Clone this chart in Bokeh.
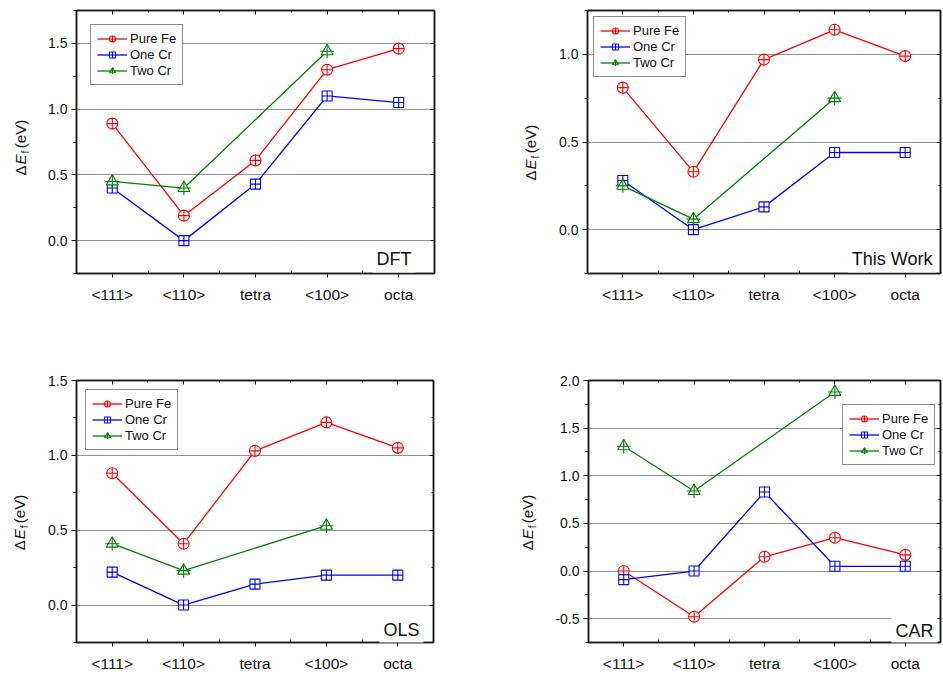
import math
from bokeh.plotting import figure
from bokeh.models import (FixedTicker, LinearAxis, Label, Legend, LegendItem,
                          PrintfTickFormatter, CustomJSTickFormatter, Range1d)
from bokeh.core.properties import value
from bokeh.layouts import column, row
from bokeh.embed import file_html
from bokeh.resources import INLINE

# ---------------- data ----------------
categories = ["<111>", "<110>", "tetra", "<100>", "octa"]
series_names = ["Pure Fe", "One Cr", "Two Cr"]

dft_pure_fe = [0.89, 0.19, 0.61, 1.30, 1.46]
dft_one_cr = [0.40, 0.00, 0.43, 1.10, 1.05]
dft_two_cr = [0.45, 0.40, None, 1.44, None]

work_pure_fe = [0.81, 0.33, 0.97, 1.14, 0.99]
work_one_cr = [0.28, 0.00, 0.13, 0.44, 0.44]
work_two_cr = [0.25, 0.06, None, 0.75, None]

ols_pure_fe = [0.88, 0.41, 1.03, 1.22, 1.05]
ols_one_cr = [0.22, 0.00, 0.14, 0.20, 0.20]
ols_two_cr = [0.41, 0.23, None, 0.53, None]

car_pure_fe = [0.00, -0.48, 0.15, 0.35, 0.17]
car_one_cr = [-0.09, 0.00, 0.83, 0.05, 0.05]
car_two_cr = [1.31, 0.84, None, 1.88, None]

panel_tags = ["DFT", "This Work", "OLS", "CAR"]
y_label_parts = ["\u0394", "E", "f", "(eV)"]

# ---------------- style ----------------
FONT = "Liberation Sans"
RED, BLUE, GREEN = "#FF0000", "#0000FF", "#008000"
FRAME = "#1a1a1a"
TXT = "#111111"


def xy(values):
    xs, ys = [], []
    for i, v in enumerate(values):
        if v is not None:
            xs.append(i + 1)
            ys.append(v)
    return xs, ys


def mirror_axis(ticker):
    return LinearAxis(ticker=ticker,
                      formatter=CustomJSTickFormatter(code="return ''"),
                      major_label_text_font_size="0px",
                      major_label_standoff=0,
                      major_tick_in=4, major_tick_out=0,
                      minor_tick_in=2, minor_tick_out=0,
                      axis_line_color=FRAME, axis_line_width=1.5,
                      major_tick_line_color=FRAME, minor_tick_line_color=FRAME)


def label_strip(width, height, bt, bb, base_x, bottom_y):
    """Narrow figure holding the rotated y-axis title: ΔE_f (eV).
    Its frame is aligned with the neighbouring panel (borders bt / bb), and the
    y range is chosen so that one data unit is one pixel measured from the
    bottom of the strip.  base_x: text baseline, bottom_y: text start (from top)."""
    s = figure(width=width, height=height, x_range=Range1d(0, width),
               y_range=Range1d(bb, height - bt), output_backend="svg",
               toolbar_location=None, x_axis_type=None, y_axis_type=None,
               min_border=0, min_border_left=0, min_border_right=0,
               min_border_top=bt, min_border_bottom=bb)
    s.outline_line_color = None
    s.background_fill_color = "white"
    s.border_fill_color = "white"
    y0 = height - bottom_y
    # (text, style, size, centre along the text, centre across relative to baseline)
    specs = [(y_label_parts[0], "normal", "15px", 5.0, -5.2),
             (y_label_parts[1], "italic", "15px", 16.0, -5.2),
             (y_label_parts[2], "normal", "10px", 23.5, -0.5),
             (y_label_parts[3], "normal", "15px", 41.5, -5.2)]
    for txt, style, size, along, across in specs:
        s.text(x=[base_x + across], y=[y0 + along], text=[txt],
               angle=math.pi / 2, text_align="center", text_baseline="middle",
               text_font=value(FONT), text_font_style=style,
               text_font_size=size, text_color=TXT)
    return s


def panel(series, tag, y_lim, y_ticks, y_minor, width, height, borders,
          legend_loc, legend_margin, tag_off, x_standoff):
    bl, br, bt, bb = borders
    n = len(categories)
    p = figure(width=width, height=height,
               x_range=Range1d(0.5, n + 0.5), y_range=Range1d(*y_lim),
               output_backend="svg", toolbar_location=None,
               min_border_left=bl, min_border_right=br,
               min_border_top=bt, min_border_bottom=bb)
    p.background_fill_color = "white"
    p.border_fill_color = "white"
    p.outline_line_color = FRAME
    p.outline_line_width = 1.5
    p.xgrid.visible = False
    p.ygrid.grid_line_color = "#222222"
    p.ygrid.grid_line_dash = "1 1"
    p.ygrid.grid_line_width = 1

    yt = FixedTicker(ticks=y_ticks, minor_ticks=y_minor)
    xt = FixedTicker(ticks=list(range(1, n + 1)),
                     minor_ticks=[i + 0.5 for i in range(1, n)])

    ax = p.yaxis[0]
    ax.ticker = yt
    ax.formatter = PrintfTickFormatter(format="%.1f")
    ax.major_tick_out = 5
    ax.major_tick_in = 0
    ax.minor_tick_out = 3
    ax.minor_tick_in = 0
    ax.major_label_standoff = 4
    ax.major_label_text_font = FONT
    ax.major_label_text_font_size = "14px"
    ax.major_label_text_color = TXT
    ax.axis_line_color = FRAME
    ax.axis_line_width = 1.5
    ax.major_tick_line_color = FRAME
    ax.minor_tick_line_color = FRAME

    bx = p.xaxis[0]
    bx.ticker = xt
    bx.major_label_overrides = {i + 1: c for i, c in enumerate(categories)}
    bx.major_tick_out = 4
    bx.major_tick_in = 0
    bx.minor_tick_in = 3
    bx.minor_tick_out = 0
    bx.major_label_standoff = x_standoff
    bx.major_label_text_font = FONT
    bx.major_label_text_font_size = "15.5px"
    bx.major_label_text_color = TXT
    bx.axis_line_color = FRAME
    bx.axis_line_width = 1.5
    bx.major_tick_line_color = FRAME
    bx.minor_tick_line_color = FRAME

    p.add_layout(mirror_axis(xt), "above")
    p.add_layout(mirror_axis(yt), "right")

    colors = [RED, BLUE, GREEN]
    items = []
    for name, vals, c in zip(series_names, series, colors):
        xs, ys = xy(vals)
        rl = p.line(xs, ys, line_color=c, line_width=1.3)
        if name == "Pure Fe":
            rm = [p.scatter(xs, ys, marker="circle_cross", size=11,
                            line_color=c, fill_color="white", line_width=1.1)]
        elif name == "One Cr":
            rm = [p.scatter(xs, ys, marker="square_cross", size=10,
                            line_color=c, fill_color="white", line_width=1.1)]
        else:
            rm = [p.scatter(xs, ys, marker="triangle", size=12,
                            line_color=c, fill_color="white", line_width=1.1),
                  p.scatter(xs, ys, marker="cross", size=14,
                            line_color=c, line_width=1.1)]
        items.append(LegendItem(label=name, renderers=[rl] + rm))

    leg = Legend(items=items, location=legend_loc, margin=legend_margin,
                 padding=6, spacing=1, glyph_width=30, glyph_height=15,
                 label_standoff=3, label_text_font=FONT,
                 label_text_font_size="13px", label_text_color=TXT,
                 border_line_color=FRAME, border_line_width=1.3,
                 background_fill_color="white", background_fill_alpha=1.0)
    p.add_layout(leg)

    p.add_layout(Label(x=n + 0.5, y=y_lim[0], x_offset=-tag_off[0],
                       y_offset=tag_off[1], text=tag, text_align="right",
                       text_baseline="alphabetic", text_font=FONT,
                       text_font_size="18px", text_color=TXT,
                       background_fill_color="white", padding=4))
    return p


H1, H2 = 370, 304
SL, SR = 45, 58  # widths of the title strips (left / right column)
TOP_B = (10, 97)   # top / bottom borders of the upper panels
BOT_B = (10, 30)   # top / bottom borders of the lower panels

lab_tl = label_strip(SL, H1, *TOP_B, 25, 175)
tl = panel([dft_pure_fe, dft_one_cr, dft_two_cr], panel_tags[0],
           (-0.25, 1.75), [0.0, 0.5, 1.0, 1.5], [-0.25, 0.25, 0.75, 1.25, 1.75],
           449, H1, (30, 60) + TOP_B, "top_left", 14, (19, 15), 8)
lab_tr = label_strip(SR, H1, *TOP_B, 41, 180)
tr = panel([work_pure_fe, work_one_cr, work_two_cr], panel_tags[1],
           (-0.25, 1.25), [0.0, 0.5, 1.0], [-0.25, 0.25, 0.75, 1.25],
           390, H1, (35, 2) + TOP_B, "top_left", 6, (4, 15), 8)
lab_bl = label_strip(SL, H2, *BOT_B, 24, 551 - H1)
bl = panel([ols_pure_fe, ols_one_cr, ols_two_cr], panel_tags[2],
           (-0.25, 1.5), [0.0, 0.5, 1.0, 1.5], [-0.25, 0.25, 0.75, 1.25],
           449, H2, (30, 61) + BOT_B, "top_left", 9, (10, 13), 8)
lab_br = label_strip(SR, H2, *BOT_B, 38, 551 - H1)
br = panel([car_pure_fe, car_one_cr, car_two_cr], panel_tags[3],
           (-0.75, 2.0), [-0.5, 0.0, 0.5, 1.0, 1.5, 2.0],
           [-0.75, -0.25, 0.25, 0.75, 1.25, 1.75],
           390, H2, (36, 2) + BOT_B, (254, 177), 0, (3, 12), 8)

layout = column(row(lab_tl, tl, lab_tr, tr), row(lab_bl, bl, lab_br, br))
open("out.html", "w").write(file_html(layout, INLINE))
